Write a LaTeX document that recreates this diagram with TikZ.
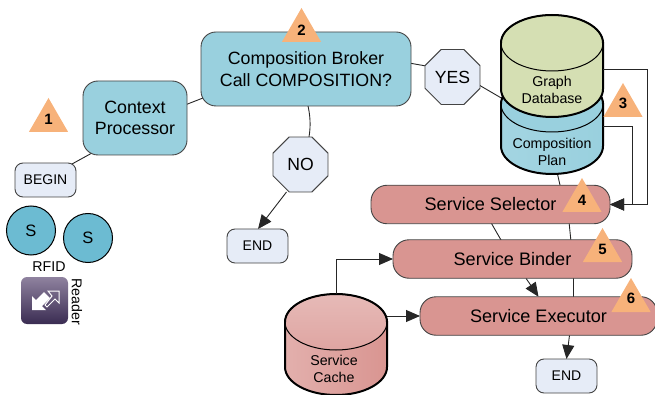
\documentclass[tikz,border=0pt]{standalone}
\usepackage{fontspec}
\setmainfont{Liberation Sans}
\usetikzlibrary{arrows.meta,backgrounds,shapes.geometric}
\definecolor{tealbox}{HTML}{99D0DE}
\definecolor{paleblue}{HTML}{E6ECF7}
\definecolor{salmon}{HTML}{D99591}
\definecolor{tricolor}{HTML}{F7B27A}
\definecolor{sensor}{HTML}{6CBBD2}
\definecolor{edgegray}{HTML}{444444}
\definecolor{graphgreen}{HTML}{D5DFB3}
\definecolor{icontop}{HTML}{8F829F}
\definecolor{iconbottom}{HTML}{3A2C52}
\tikzset{
  base/.style={draw=edgegray, line width=0.9pt, inner sep=0pt, outer sep=0pt, align=center},
  bluebox/.style={base, rectangle, rounded corners=15pt, fill=tealbox, font=\fontsize{17.8}{21.5}\selectfont},
  service/.style={base, rectangle, rounded corners=16pt, fill=salmon, minimum width=239pt, minimum height=38.5pt, font=\fontsize{18.1}{21}\selectfont},
  terminal/.style={base, rectangle, rounded corners=8pt, fill=paleblue, minimum width=61pt, minimum height=34pt, font=\fontsize{14}{16}\selectfont},
  decision/.style={base, regular polygon, regular polygon sides=8, fill=paleblue, minimum size=59.5pt, font=\fontsize{17.6}{21}\selectfont},
  sensornode/.style={draw=black, line width=1pt, circle, inner sep=0pt, outer sep=0pt, minimum size=49pt, fill=sensor, font=\fontsize{16.5}{20}\selectfont},
  badge/.style={isosceles triangle, isosceles triangle apex angle=60, shape border rotate=90, anchor=apex, fill=tricolor, inner sep=0pt, outer sep=0pt, minimum height=34pt, minimum width=39pt},
  badgetext/.style={font=\bfseries\fontsize{15}{18}\selectfont, inner sep=0pt},
  small/.style={font=\fontsize{14.2}{17.5}\selectfont, align=center, inner sep=0pt},
  link/.style={draw=black!85, line width=0.9pt},
  flow/.style={link, -{Triangle[length=14pt,width=12pt]}},
}
% #1 name, #2 left, #3 top centre, #4 bottom centre, #5 top fill, #6 body fill
\newcommand{\drum}[6]{
  \path[#6, line width=2pt, draw=black] (#2,#3) -- (#2,#4) arc[start angle=180, end angle=0, x radius=51, y radius=28] -- (#2+102,#3) -- cycle;
  \path[#5, line width=1pt, draw=black] (#2+51,#3) ellipse[x radius=51, y radius=28];
  \draw[line width=2pt] (#2,#3) arc[start angle=180, end angle=360, x radius=51, y radius=28];
  \draw[line width=2pt] (#2,#3) -- (#2,#4);
  \draw[line width=2pt] (#2+102,#3) -- (#2+102,#4);
  \node[inner sep=0pt, outer sep=0pt, minimum width=102pt, minimum height=#4-#3+56pt] (#1) at (#2+51,{(#3+#4)/2}) {};
}
\newcommand{\marker}[3]{
  \node[badge] (tri#1) at (#2) {};
  \node[badgetext] at (#3) {#1};
}
\begin{document}
\begin{tikzpicture}[x=1pt,y=-1pt]
  \useasboundingbox (0,0) rectangle (655,395);
  \node[bluebox, minimum width=104pt, minimum height=74pt] (context) at (135,118) {Context\\Processor};
  \node[bluebox, minimum width=210pt, minimum height=74pt] (broker) at (306,69) {Composition Broker\\Call COMPOSITION?};
  \node[decision] (yes) at (452.5,77) {YES};
  \node[decision] (no) at (300.5,164.5) {NO};
  \node[terminal] (begin) at (45.5,180) {BEGIN};
  \node[terminal] (endno) at (257.5,246) {END};
  \node[terminal] (endexec) at (566.5,376) {END};
  \node[sensornode] (sa) at (31,230.5) {S};
  \node[sensornode] (sb) at (88,238) {S};
  \node[small] (rfid) at (49,267) {RFID};
  \node[small, rotate=-90] (reader) at (77,302) {Reader};
  \node[rectangle, rounded corners=6pt, top color=icontop, bottom color=iconbottom, minimum size=47pt, inner sep=0pt] (icon) at (44.5,300.5) {};
  \fill[white] (32,310) -- (32,296) -- (36,300) -- (44,292) -- (50,298) -- (42,306) -- (46,310) -- cycle;
  \draw[white, line width=1pt] (59,291) -- (59,303) -- (55,299) -- (47,307) -- (45,305) -- (52,296) -- (48,291) -- cycle;

  \drum{plan}{501}{104}{146}{fill=tealbox}{left color=tealbox!90, right color=tealbox}
  \drum{graph}{501}{43}{89}{fill=graphgreen}{fill=graphgreen}
  \node[small] (graphtext) at (552,90) {Graph\\Database};
  \node[small] (plantext) at (552,152) {Composition\\Plan};

  \node[service] (selector) at (490.5,204.5) {Service Selector};
  \node[service] (binder) at (512.5,259) {Service Binder};
  \node[service, minimum width=237pt] (executor) at (538.5,316) {Service Executor};
  \drum{cache}{285}{322}{367}{top color=salmon!65!white, bottom color=salmon!85!white}{left color=salmon!75!white, right color=salmon}
  \node[small] (cachetext) at (334,369) {Service\\Cache};

  \begin{scope}[on background layer]
    \draw[link] ([shift={(-4,1)}]begin.north east) -- ([shift={(9,-2)}]context.south west);
    \draw[link] ([shift={(-2,-50)}]context.south east) -- ([shift={(2,-8)}]broker.south west);
    \draw[link] ([shift={(-2,31)}]broker.north east) -- ([shift={(1,-11)}]yes.west);
    \draw[link] ([shift={(-1,8)}]yes.east) -- ([shift={(2,84)}]graph.north west);
    \draw[link] ([xshift=2]broker.south) .. controls (310,115) and (311,125) .. ([xshift=8.5]no.north);
    \draw[flow] ([xshift=-14]no.south) -- ([xshift=0.5]endno.north);
    \draw[link] ([shift={(5,-2)}]plan.south) -- ([shift={(70,2)}]selector.north);
    \draw[link] ([shift={(0,-2)}]selector.south) -- ([shift={(-10.5,2)}]binder.north);
    \draw[link] ([shift={(78.5,-2)}]selector.south) -- ([shift={(58.5,2)}]binder.north);
    \draw[flow] ([xshift=13.5]binder.south) -- (executor.north);
    \draw[link] ([shift={(60.5,-2)}]binder.south) -- ([shift={(34.5,2)}]executor.north);
    \draw[flow] ([xshift=31]executor.south) -- (endexec.north);
  \end{scope}
  \draw[flow] (cache.north) |- (binder.west);
  \draw[flow] (cache.east |- executor.west) -- (executor.west);
  \draw[flow] ([shift={(0,54)}]graph.north east) -- ++(44,0) |- (selector.east);
  \draw[flow] ([shift={(0,50)}]plan.north east) -- ++(29,0) |- (selector.east);

  \marker{1}{48.5,98}{48.5,119.5}
  \marker{2}{301.5,8}{301.5,30}
  \marker{3}{623,83}{623,103.5}
  \marker{4}{582,178}{582,200}
  \marker{5}{602.5,228}{602.5,249.5}
  \marker{6}{631,278}{631,298.5}
\end{tikzpicture}
\end{document}
